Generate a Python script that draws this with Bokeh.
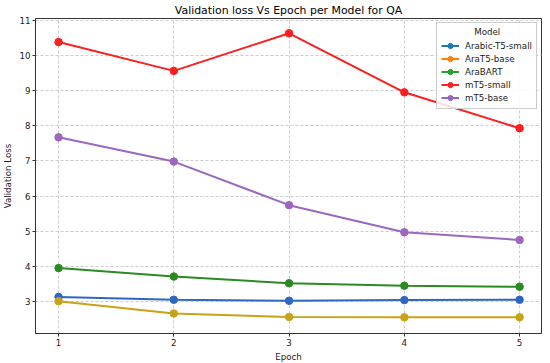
from bokeh.plotting import figure
from bokeh.models import Range1d, Legend, LegendItem, FixedTicker
from bokeh.embed import file_html
from bokeh.resources import INLINE

epochs = [1, 2, 3, 4, 5]
models = ["Arabic-T5-small", "AraT5-base", "AraBART", "mT5-small", "mT5-base"]
arabic_t5_small = [3.13, 3.05, 3.02, 3.04, 3.05]
arat5_base = [3.01, 2.66, 2.56, 2.55, 2.55]
arabart = [3.95, 3.71, 3.52, 3.45, 3.42]
mt5_small = [10.38, 9.56, 10.63, 8.95, 7.93]
mt5_base = [7.67, 6.98, 5.74, 4.97, 4.75]
series = [arabic_t5_small, arat5_base, arabart, mt5_small, mt5_base]
line_colors = ["#2f66c4", "#c9a215", "#2b8a22", "#fb2020", "#9b67bf"]
legend_colors = ["#1f77b4", "#ff7f0e", "#2ca02c", "#ff2020", "#9467bd"]

FONT = "DejaVu Sans"
SMALL = "8.7px"

p = figure(width=542, height=364, output_backend="svg", toolbar_location=None,
           x_range=Range1d(0.8, 5.19), y_range=Range1d(2.09, 11.05),
           title="Validation loss Vs Epoch per Model for QA",
           min_border_right=1, min_border_top=0, min_border_bottom=0,
           min_border_left=0)
p.title.align = "center"
p.title.text_font = FONT
p.title.text_font_size = "10.9px"
p.title.text_font_style = "normal"
p.title.text_color = "#000000"
p.title.standoff = 3

p.outline_line_color = "#333333"
p.outline_line_width = 1
p.background_fill_color = "white"

for ax in (p.xaxis, p.yaxis):
    ax.major_tick_in = 0
    ax.major_tick_out = 3
    ax.minor_tick_line_color = None
    ax.axis_line_color = "#333333"
    ax.major_tick_line_color = "#333333"
    ax.major_label_text_font = FONT
    ax.major_label_text_font_size = SMALL
    ax.major_label_text_color = "#222222"
    ax.major_label_standoff = 2
    ax.axis_label_text_font = FONT
    ax.axis_label_text_font_size = SMALL
    ax.axis_label_text_font_style = "normal"
    ax.axis_label_text_color = "#222222"
p.xaxis.ticker = FixedTicker(ticks=epochs)
p.yaxis.ticker = FixedTicker(ticks=list(range(3, 12)))
p.xaxis.axis_label = "Epoch"
p.yaxis.axis_label = "Validation Loss"
p.xaxis.axis_label_standoff = 3
p.yaxis.axis_label_standoff = 3

p.grid.grid_line_color = "#cccccc"
p.grid.grid_line_dash = "3 2"
p.grid.grid_line_width = 1

nan = float("nan")
items = []
for name, ys, lc, gc in zip(models, series, line_colors, legend_colors):
    p.line(epochs, ys, line_color=lc, line_width=2)
    p.scatter(epochs, ys, size=7.5, fill_color=lc, line_color=lc)
    l = p.line([nan], [nan], line_color=gc, line_width=2)
    s = p.scatter([nan], [nan], size=7, fill_color=gc, line_color=gc)
    items.append(LegendItem(label=name, renderers=[l, s]))

legend = Legend(items=items, location="top_right", title="\u00a0" * 12 + "Model",
                label_text_font=FONT, label_text_font_size=SMALL,
                title_text_font=FONT, title_text_font_size=SMALL,
                title_text_font_style="normal", title_standoff=2,
                title_text_color="#222222", label_text_color="#222222",
                label_height=13, glyph_height=13, glyph_width=18,
                spacing=0, padding=4, margin=4, label_standoff=6,
                border_line_color="#cccccc", border_line_alpha=1.0,
                background_fill_alpha=0.85)
p.add_layout(legend)

open("out.html", "w").write(file_html(p, INLINE))
